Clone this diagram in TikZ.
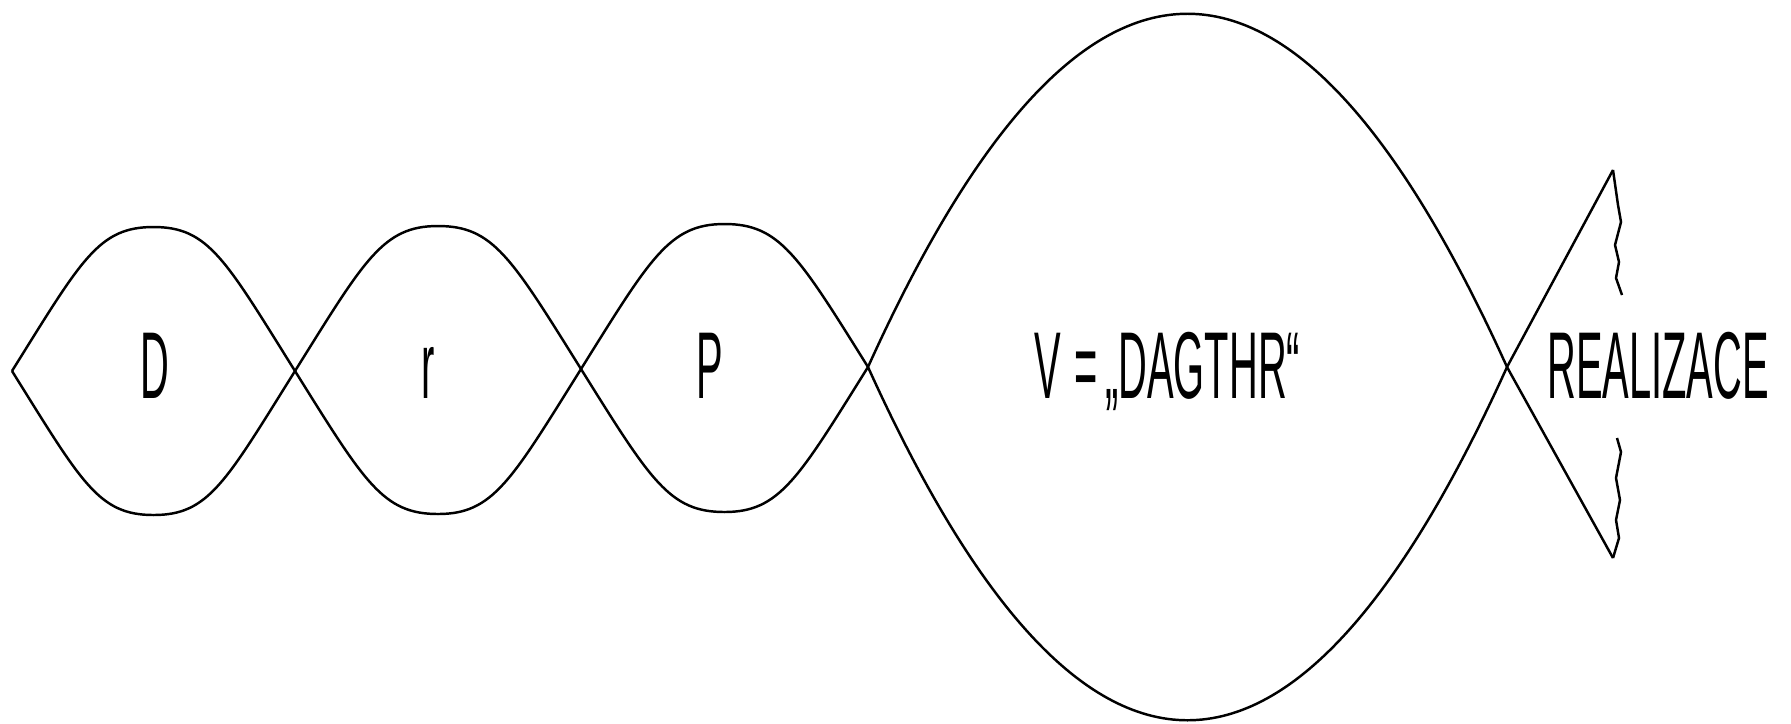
\documentclass[tikz,border=0pt]{standalone}
\usepackage{fontspec}
\usetikzlibrary{calc}
\newfontfamily\lblfont[FakeStretch=0.42]{Liberation Sans}

\begin{document}
\begin{tikzpicture}[x=0.01cm,y=-0.01cm,line width=0.7pt,
    lbl/.style={font=\lblfont\fontsize{27}{27}\selectfont,inner sep=0pt,anchor=base}]
  \useasboundingbox (0,0) rectangle (1791,723);
  % crossing points on the midline
  \coordinate (tip) at (12,371);
  \coordinate (x1) at (295,371);
  \coordinate (x2) at (581,369);
  \coordinate (x3) at (868,367);
  \coordinate (x4) at (1507,367);
  % the three small lobes, upper (-1) and lower (+1) halves
  \foreach \a/\b in {tip/x1,x1/x2,x2/x3}{
    \foreach \s in {-1,1}{
      \draw (\a) .. controls ($(\a)+(70,112*\s)$) and ($(\a)!0.5!(\b)+(-55,144*\s)$)
        .. ($(\a)!0.5!(\b)+(0,144*\s)$)
        .. controls ($(\a)!0.5!(\b)+(55,144*\s)$) and ($(\b)+(-70,112*\s)$) .. (\b);
    }
  }
  % the big lobe
  \draw (x3) .. controls ($(x3)!1/3!(x4)+(0,-471)$) and ($(x3)!2/3!(x4)+(0,-471)$) .. (x4);
  \draw (x3) .. controls ($(x3)!1/3!(x4)+(0,471)$) and ($(x3)!2/3!(x4)+(0,471)$) .. (x4);
  % the open tail
  \coordinate (ttop) at (1613,170);
  \coordinate (tbot) at (1613,558);
  \draw (x4) -- (ttop);
  \draw (x4) -- (tbot);
  \draw (ttop) -- (1618,205) -- (1621,222) -- (1615,245) -- (1619,262)
    -- (1616,278) -- (1622,295);
  \draw (1617,438) -- (1621,452) -- (1616,478) -- (1620,500)
    -- (1616,520) -- (1619,538) -- (tbot);
  % labels
  \node[lbl] (D) at (155,398) {D};
  \node[lbl] (r) at (428,398) {r};
  \node[lbl] (P) at (710,398) {P};
  \node[lbl,anchor=base west] (V) at (1033,398) {V\hspace{4pt}=\hspace{2pt}„DAGTHR“};
  \node[lbl] (R) at (1658,398) {REALIZACE};
\end{tikzpicture}
\end{document}
